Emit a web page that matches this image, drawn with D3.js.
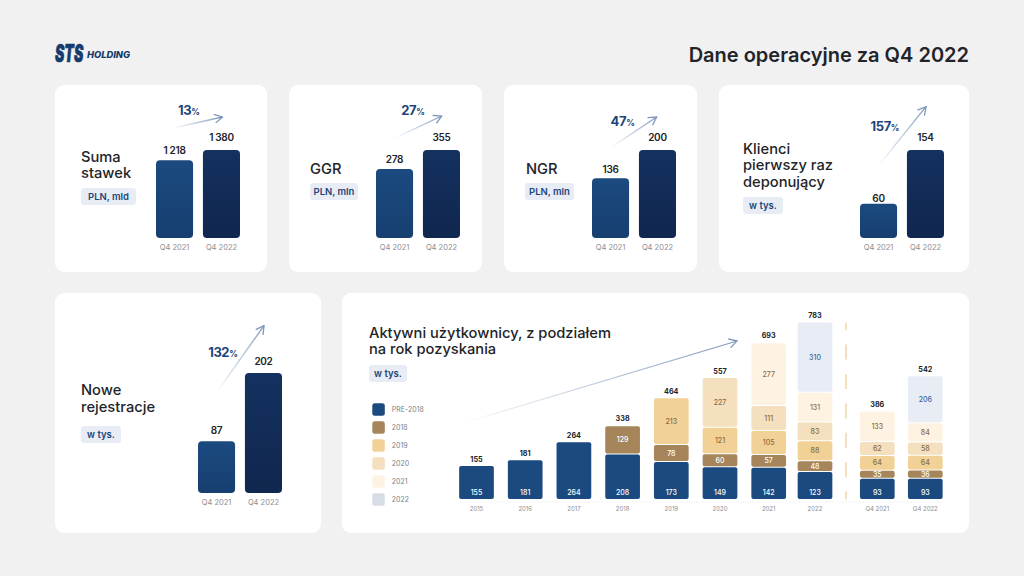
<!DOCTYPE html>
<html>
<head>
<meta charset="utf-8">
<script src="https://cdn.jsdelivr.net/npm/d3@7"></script>
<style>
  html, body { margin: 0; padding: 0; background: #f1f1f1; }
  svg { display: block; font-family: Inter, "Open Sans", sans-serif; }
</style>
</head>
<body>
<svg id="chart" width="1024" height="576"></svg>
<script>
// data
var quarters = ["Q4 2021", "Q4 2022"];

var sumaValues = [1218, 1380];
var ggrValues = [278, 355];
var ngrValues = [136, 200];
var klienciValues = [60, 154];
var noweValues = [87, 202];

var sumaLabels = ["1 218", "1 380"];

var earlyYears = ["2015", "2016", "2017", "2018", "2019", "2020"];
var lateYears = ["2021", "2022"];
var years = earlyYears.concat(lateYears, quarters);
var cohorts = ["PRE-2018", "2018", "2019", "2020", "2021", "2022"];

var pre2018 = [155, 181, 264, 208, 173, 149, 142, 123, 93, 93];
var c2018 = [0, 0, 0, 129, 78, 60, 57, 48, 35, 36];
var c2019 = [0, 0, 0, 0, 213, 121, 105, 88, 64, 64];
var c2020 = [0, 0, 0, 0, 0, 227, 111, 83, 62, 58];
var c2021 = [0, 0, 0, 0, 0, 0, 277, 131, 133, 84];
var c2022 = [0, 0, 0, 0, 0, 0, 0, 310, 0, 206];
var totals = [155, 181, 264, 338, 464, 557, 693, 783, 386, 542];

var cohortSeries = [pre2018, c2018, c2019, c2020, c2021, c2022];

var cohortColors = ["#1b4a80", "#a6855a", "#f2d197", "#f4dfbe", "#fef3e3", "#e8ecf4"];
var cohortText = ["#ffffff", "#ffffff", "#8a6d45", "#8a6d45", "#8a6d45", "#3f659c"];
var legendColors = ["#1b4a80", "#a6855a", "#f2d197", "#f4dfbe", "#fef3e3", "#d8dce4"];

var svg = d3.select("#chart");
var defs = svg.append("defs");

var INK = "#222429", NAVY = "#1d4579", GREY = "#8b8e94", PILL = "#e8ecf4";

function gradient(id, top, bottom) {
	var g = defs.append("linearGradient").attr("id", id)
		.attr("x1", 0).attr("y1", 0).attr("x2", 0).attr("y2", 1);
	g.append("stop").attr("offset", "0%").attr("stop-color", top);
	g.append("stop").attr("offset", "100%").attr("stop-color", bottom);
}
gradient("bar2021", "#1b4a80", "#173f70");
gradient("bar2022", "#14315f", "#10274f");

defs.append("marker").attr("id", "head").attr("viewBox", "0 0 10 10")
	.attr("refX", 9).attr("refY", 5).attr("markerUnits", "userSpaceOnUse")
	.attr("markerWidth", 10).attr("markerHeight", 10).attr("orient", "auto")
	.append("path").attr("d", "M1,0.5 L9,5 L1,9.5")
	.attr("fill", "none").attr("stroke", "#7d97bb").attr("stroke-width", 1.3);

// growth arrow, fades in from its tail
var arrowCount = 0;
function arrow(p) {
	var id = "arrow" + (arrowCount++);
	var g = defs.append("linearGradient").attr("id", id)
		.attr("gradientUnits", "userSpaceOnUse")
		.attr("x1", p.x1).attr("y1", p.y1).attr("x2", p.x2).attr("y2", p.y2);
	g.append("stop").attr("offset", "0%").attr("stop-color", "#7d97bb").attr("stop-opacity", 0);
	g.append("stop").attr("offset", "100%").attr("stop-color", "#7d97bb").attr("stop-opacity", 1);
	svg.append("line").attr("x1", p.x1).attr("y1", p.y1).attr("x2", p.x2).attr("y2", p.y2)
		.attr("stroke", "url(#" + id + ")").attr("stroke-width", 1.3)
		.attr("marker-end", "url(#head)");
}

function card(x, y, w, h) {
	svg.append("rect").attr("x", x).attr("y", y).attr("width", w).attr("height", h)
		.attr("rx", 9).attr("fill", "#ffffff");
}

function title(x, y, lines, lh) {
	lines.forEach(function(t, i) {
		svg.append("text").attr("x", x).attr("y", y + i * lh).text(t)
			.attr("font-size", 14.7).attr("font-weight", 500).attr("fill", INK);
	});
}

function pill(x, y, w, label) {
	svg.append("rect").attr("x", x).attr("y", y).attr("width", w).attr("height", 17)
		.attr("rx", 3).attr("fill", PILL);
	svg.append("text").attr("x", x + w / 2).attr("y", y + 12).text(label)
		.attr("text-anchor", "middle").attr("font-size", 9.5).attr("font-weight", 600)
		.attr("fill", NAVY);
}

function percent(x, y, num) {
	var t = svg.append("text").attr("x", x).attr("y", y).attr("text-anchor", "middle")
		.attr("font-weight", 700).attr("fill", NAVY);
	t.append("tspan").attr("font-size", 13).attr("letter-spacing", -0.4).text(num);
	t.append("tspan").attr("font-size", 8.5).text("%");
}

// two-bar panel
function twoBars(o) {
	var y = d3.scaleLinear().domain([0, o.max]).range([o.base, o.top]);
	var x = d3.scaleBand().domain(quarters).range(o.xr).paddingInner(0.21);
	var g = svg.append("g");

	g.selectAll("rect").data(o.values).enter().append("rect")
		.attr("x", function(d, i) { return x(quarters[i]); })
		.attr("y", function(d) { return y(d); })
		.attr("width", x.bandwidth())
		.attr("height", function(d) { return y(0) - y(d); })
		.attr("rx", 4)
		.attr("fill", function(d, i) { return i == 0 ? "url(#bar2021)" : "url(#bar2022)"; });

	g.selectAll(".val").data(o.values).enter().append("text")
		.attr("class", "val")
		.attr("x", function(d, i) { return x(quarters[i]) + x.bandwidth() / 2; })
		.attr("y", function(d, i) { return y(d) - o.gaps[i]; })
		.attr("text-anchor", "middle").attr("font-size", 10).attr("font-weight", 600)
		.attr("letter-spacing", -0.3)
		.attr("fill", INK)
		.text(function(d, i) { return o.labels ? o.labels[i] : d; });

	var axis = d3.axisBottom(x).tickSize(0).tickPadding(0);
	var ax = g.append("g").attr("transform", "translate(0," + (o.base + 6.5) + ")").call(axis);
	ax.select(".domain").remove();
	ax.selectAll("text").attr("font-size", 7.5).attr("fill", GREY)
		.attr("font-family", "Inter, sans-serif");
}

// background
svg.append("rect").attr("width", 1024).attr("height", 576).attr("fill", "#f1f1f1");

// logo, STS is stretched upwards so its box stops before HOLDING
var logo = svg.append("g");
logo.append("text").attr("transform", "translate(55,62) scale(1,1.7)").text("STS")
	.attr("font-size", 14).attr("font-weight", 900).attr("font-style", "italic")
	.attr("fill", "#153a6b").attr("stroke", "#153a6b").attr("stroke-width", 0.4);
logo.append("text").attr("x", 87).attr("y", 57.7).text("HOLDING")
	.attr("font-size", 8.8).attr("font-weight", 800).attr("font-style", "italic")
	.attr("textLength", 43).attr("lengthAdjust", "spacingAndGlyphs")
	.attr("fill", "#153a6b");

svg.append("text").attr("x", 969).attr("y", 62).attr("text-anchor", "end")
	.text("Dane operacyjne za Q4 2022")
	.attr("font-size", 20).attr("font-weight", 600).attr("fill", INK);

// Suma stawek
card(55, 85, 212, 187);
title(81, 162, ["Suma", "stawek"], 16.2);
pill(81, 188, 55, "PLN, mld");
twoBars({ values: sumaValues, labels: sumaLabels, max: 1380, base: 238, top: 150, xr: [156, 240], gaps: [6.5, 9] });
arrow({ x1: 173, y1: 128, x2: 222.5, y2: 117 });
percent(189, 115, "13");

// GGR
card(289, 85, 193, 187);
title(310, 174, ["GGR"], 16);
pill(310, 183, 48, "PLN, mln");
twoBars({ values: ggrValues, max: 355, base: 238, top: 150, xr: [376, 460], gaps: [5.7, 9] });
arrow({ x1: 395, y1: 138, x2: 441.7, y2: 116 });
percent(413, 115, "27");

// NGR
card(504, 85, 193, 187);
title(526, 174, ["NGR"], 16);
pill(525, 183, 49, "PLN, mln");
twoBars({ values: ngrValues, max: 200, base: 238, top: 150, xr: [592, 676], gaps: [5, 9] });
arrow({ x1: 611.7, y1: 147, x2: 656.7, y2: 117 });
percent(622.7, 126, "47");

// Klienci pierwszy raz deponujacy
card(719, 85, 250, 187);
title(743, 153.5, ["Klienci", "pierwszy raz", "deponujący"], 16.7);
pill(743, 197, 40, "w tys.");
twoBars({ values: klienciValues, max: 154, base: 238, top: 150, xr: [860, 944], gaps: [1.5, 9] });
arrow({ x1: 879, y1: 165, x2: 926, y2: 106.7 });
percent(885, 130.5, "157");

// Nowe rejestracje
card(55, 293, 266, 240);
title(81, 395, ["Nowe", "rejestracje"], 16.5);
pill(81, 426, 40, "w tys.");
twoBars({ values: noweValues, max: 202, base: 493, top: 373, xr: [198, 282], gaps: [7, 8] });
arrow({ x1: 217, y1: 392, x2: 264, y2: 325.7 });
percent(223, 356.7, "132");

// Aktywni uzytkownicy
card(342, 293, 627, 240);
title(369, 338, ["Aktywni użytkownicy, z podziałem", "na rok pozyskania"], 16.3);
pill(369, 365, 38, "w tys.");

// legend
var legend = svg.append("g").selectAll("g").data(cohorts).enter().append("g")
	.attr("transform", function(d, i) { return "translate(372.3," + (403.3 + i * 18) + ")"; });
legend.append("rect").attr("width", 12.5).attr("height", 12.5).attr("rx", 2.5)
	.attr("fill", function(d, i) { return legendColors[i]; });
legend.append("text").attr("x", 19.5).attr("y", 9).text(function(d) { return d; })
	.attr("font-size", 7).attr("fill", "#7e8187");

// stacked bars: the original is drawn in three slightly different vertical scales
var xEarly = d3.scalePoint().domain(["2015", "2016", "2017", "2018", "2019", "2020", "2021"]).range([476.5, 768.7]);
var xLast = d3.scalePoint().domain(["2022"]).range([815, 815]);
var xQuarter = d3.scalePoint().domain(quarters).range([877.3, 925.3]);
function xCenter(yr) {
	if (yr == "2022") return xLast(yr);
	return xEarly(yr) !== undefined ? xEarly(yr) : xQuarter(yr);
}

var barW = 34.7;
var yEarly = d3.scaleLinear().domain([0, 557]).range([499.5, 377.5]);
var yLate = d3.scaleLinear().domain([0, 783]).range([499.5, 322]);
var yQuarter = d3.scaleLinear().domain([0, 542]).range([499.5, 375.5]);
function yFor(yr) {
	if (earlyYears.indexOf(yr) != -1) return yEarly;
	return lateYears.indexOf(yr) != -1 ? yLate : yQuarter;
}

var rows = years.map(function(yr, i) {
	var row = { year: yr };
	cohorts.forEach(function(c, k) { row[c] = cohortSeries[k][i]; });
	return row;
});
var stacked = d3.stack().keys(cohorts)(rows);

// faint base line
svg.append("line").attr("x1", 459).attr("x2", 943).attr("y1", 502).attr("y2", 502)
	.attr("stroke", "#f6f6f6").attr("stroke-width", 1);

var layers = svg.append("g").selectAll("g").data(stacked).enter().append("g");
layers.each(function(s) {
	var k = cohorts.indexOf(s.key);
	var present = s.filter(function(d) { return d[1] > d[0]; });
	var layer = d3.select(this);

	layer.selectAll("rect").data(present).enter().append("rect")
		.attr("x", function(d) { return xCenter(d.data.year) - barW / 2; })
		.attr("y", function(d) { return yFor(d.data.year)(d[1]) + 0.5; })
		.attr("width", barW)
		.attr("height", function(d) { var y = yFor(d.data.year); return y(d[0]) - y(d[1]) - 1; })
		.attr("rx", 2)
		.attr("fill", cohortColors[k]);

	layer.selectAll("text").data(present).enter().append("text")
		.attr("x", function(d) { return xCenter(d.data.year); })
		.attr("y", function(d) {
			var y = yFor(d.data.year);
			// PRE-2018 has its label at the bottom, the rest are centred
			return k == 0 ? y(d[0]) - 4.5 : (y(d[0]) + y(d[1])) / 2 + 2.6;
		})
		.attr("text-anchor", "middle").attr("font-size", 7).attr("font-weight", 500)
		.attr("fill", cohortText[k])
		.text(function(d) { return d[1] - d[0]; });
});

svg.append("g").selectAll("text").data(totals).enter().append("text")
	.attr("x", function(d, i) { return xCenter(years[i]); })
	.attr("y", function(d, i) { return yFor(years[i])(d) - 4; })
	.attr("text-anchor", "middle").attr("font-size", 7.2).attr("font-weight", 700)
	.attr("fill", INK).text(function(d) { return d; });

svg.append("g").selectAll("text").data(years).enter().append("text")
	.attr("x", function(d) { return xCenter(d); })
	.attr("y", 511).attr("text-anchor", "middle")
	.attr("font-size", 6).attr("fill", GREY).text(function(d) { return d; });

// dashed separator
svg.append("line").attr("x1", 846).attr("x2", 846).attr("y1", 322.7).attr("y2", 499.3)
	.attr("stroke", "#f4dfbe").attr("stroke-width", 2)
	.attr("stroke-dasharray", "15 14.4").attr("stroke-dashoffset", 7.5);

arrow({ x1: 460, y1: 424, x2: 737, y2: 341 });
</script>
</body>
</html>
